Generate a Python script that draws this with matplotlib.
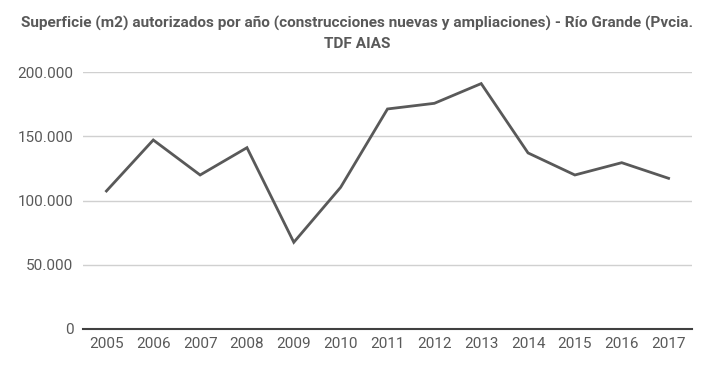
import matplotlib
matplotlib.use("Agg")
import matplotlib.pyplot as plt
from matplotlib.ticker import FuncFormatter

years = ["2005", "2006", "2007", "2008", "2009", "2010", "2011", "2012", "2013", "2014", "2015", "2016", "2017"]
superficie = [107400, 147200, 119900, 141200, 67400, 110300, 171400, 175800, 191200, 137100, 119900, 129500, 117300]
yticks = [0, 50000, 100000, 150000, 200000]

plt.rcParams['font.family'] = ['Roboto', 'DejaVu Sans']

fig = plt.figure(figsize=(7.15, 3.69), dpi=100)
ax = fig.add_axes([83/715, 1-328.7/369, (692-83)/715, (328.7-72.3)/369])

x = list(range(len(years)))
ax.plot(x, superficie, color="#595959", linewidth=2.0, solid_joinstyle="miter")

ax.set_xlim(-0.5, len(years) - 0.5)
ax.set_ylim(0, 200000)
ax.set_yticks(yticks)
ax.yaxis.set_major_formatter(FuncFormatter(lambda v, p: f"{int(v):,}".replace(",", ".")))
ax.set_xticks(x)
ax.set_xticklabels(years)

ax.grid(axis="y", color="#d0d0d0", linewidth=1.0)
ax.set_axisbelow(True)
for s in ["top", "right", "left"]:
    ax.spines[s].set_visible(False)
ax.spines["bottom"].set_color("#404040")
ax.spines["bottom"].set_linewidth(1.5)
ax.spines["bottom"].set_zorder(3)
ax.tick_params(axis="both", length=0, labelsize=11, colors="#595959")
ax.tick_params(axis="x", pad=6)
ax.tick_params(axis="y", pad=7)

fig.text(0.5, 1-23/369, "Superficie (m2) autorizados por año (construcciones nuevas y ampliaciones) - Río Grande (Pvcia.",
         ha="center", va="center", fontsize=11.1, fontweight="bold", color="#595959")
fig.text(0.5, 1-44/369, "TDF AIAS",
         ha="center", va="center", fontsize=11.1, fontweight="bold", color="#595959")

fig.savefig("out.png", dpi=100, facecolor="white")
